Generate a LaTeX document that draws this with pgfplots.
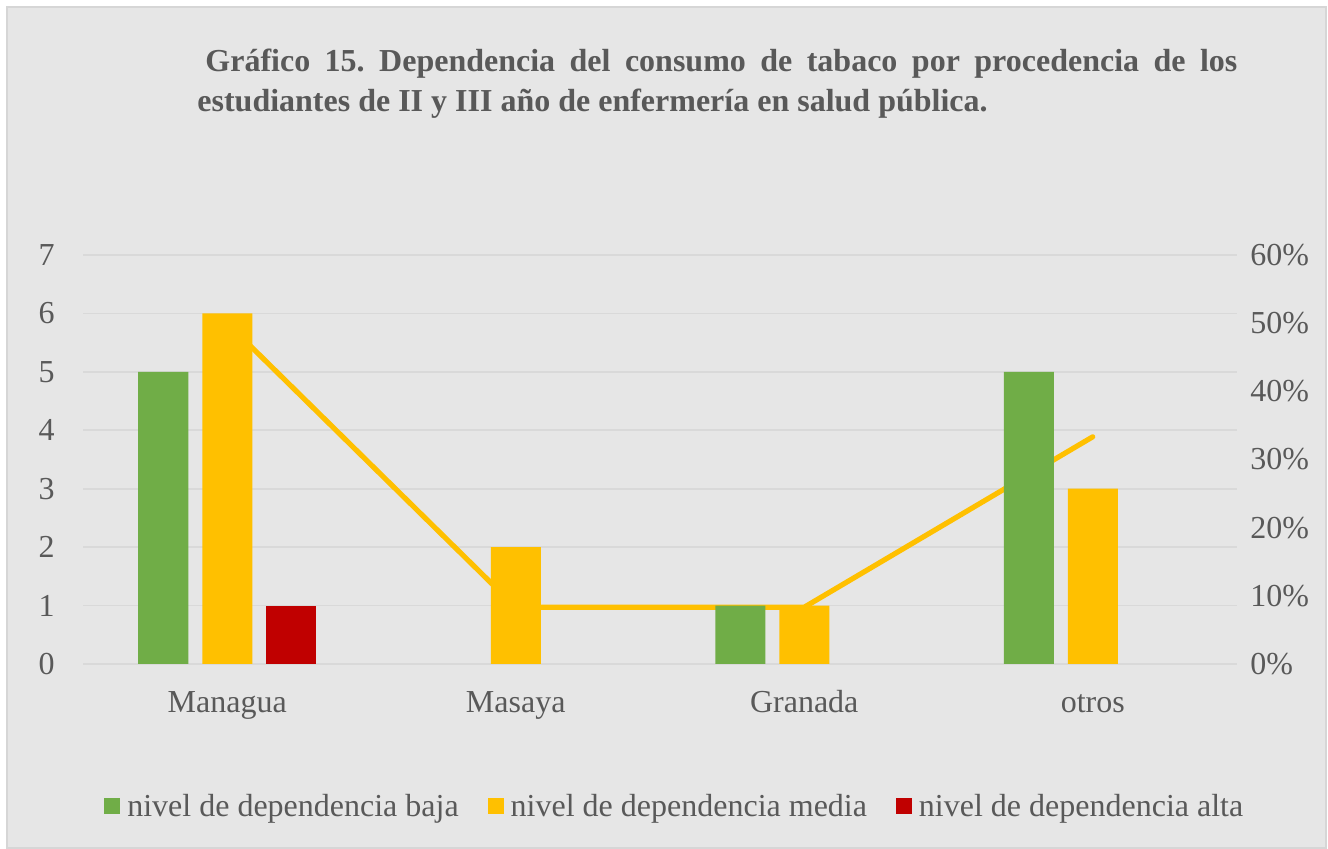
\documentclass[border=0pt]{standalone}
\usepackage{pgfplots}
\pgfplotsset{compat=1.18}
\usepackage{fontspec}
\setmainfont{Liberation Serif}
\frenchspacing

\definecolor{bg}{HTML}{E6E6E6}
\definecolor{frame}{HTML}{D6D6D6}
\definecolor{gridc}{HTML}{D9D9D9}
\definecolor{txt}{HTML}{595959}
\definecolor{cbaja}{HTML}{70AD47}
\definecolor{cmedia}{HTML}{FFC000}
\definecolor{calta}{HTML}{C00000}

\pgfplotsset{
  base/.style={
    at={(41.5pt,91pt)}, anchor=south west, scale only axis,
    width=577pt, height=204.5pt,
    xmin=-0.5, xmax=3.5,
    /pgf/number format/assume math mode=true,
    tick label style={font=\fontsize{16}{19}\selectfont, text=txt},
  },
}

\begin{document}
\begin{tikzpicture}
  % background and frame
  \fill[white] (0pt,0pt) rectangle (664pt,423pt);
  \filldraw[fill=bg, draw=frame, line width=0.8pt] (3.5pt,-1pt) rectangle (663pt,419.5pt);

  % title
  \node[anchor=base west, text width=520pt, align=justify, inner sep=0pt,
        text=txt, font=\bfseries\fontsize{16}{20}\selectfont]
    at (98.5pt,387pt)
    {\hspace*{4pt}Gráfico 15. Dependencia del consumo de tabaco por procedencia de los\linebreak
     estudiantes de II y III año de enfermería en salud pública.};

  % grid and left axis
  \begin{axis}[
    base,
    ymin=0, ymax=7,
    ytick={0,...,7},
    xtick={0,1,2,3},
    xticklabels={Managua,Masaya,Granada,otros},
    axis line style={draw=none},
    major tick length=0pt,
    ymajorgrids,
    grid style={draw=gridc, line width=0.8pt},
    yticklabel style={inner xsep=0pt, xshift=-14pt},
    xticklabel style={anchor=base, yshift=-24.5pt},
  ]
  \end{axis}

  % right axis with the line
  \begin{axis}[
    base,
    ymin=0, ymax=60,
    ytick={0,10,...,60},
    yticklabel={\pgfmathprintnumber{\tick}\%},
    yticklabel pos=right,
    xtick=\empty,
    axis line style={draw=none},
    major tick length=0pt,
    yticklabel style={inner xsep=0pt, xshift=6.5pt},
  ]
    \addplot[cmedia, line width=2.6pt, line cap=round, line join=round]
      coordinates {(0,50) (1,8.33) (2,8.33) (3,33.33)};
  \end{axis}

  % bars (zero values left out, as they draw nothing)
  \begin{axis}[
    base,
    hide axis,
    ymin=0, ymax=7,
    ybar=7pt, bar width=25pt,
    legend columns=3,
    legend image code/.code={\fill[#1] (0pt,-3.5pt) rectangle (8pt,4.5pt);},
    legend style={at={(0.515,-0.35)}, anchor=center, draw=none, fill=none,
      font=\fontsize{16}{19}\selectfont, text=txt,
      nodes={inner xsep=3.5pt},
      /tikz/every even column/.append style={column sep=11pt}},
  ]
    \addplot[fill=cbaja, draw=none] coordinates {(0,5) (2,1) (3,5)};
    \addplot[fill=cmedia, draw=none] coordinates {(0,6) (1,2) (2,1) (3,3)};
    \addplot[fill=calta, draw=none] coordinates {(0,1)};
    \legend{nivel de dependencia baja, nivel de dependencia media, nivel de dependencia alta}
  \end{axis}
\end{tikzpicture}
\end{document}
